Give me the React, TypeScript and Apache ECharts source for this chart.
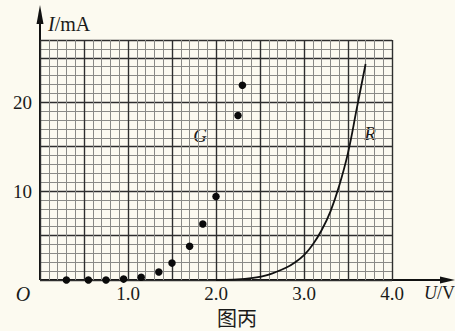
import React, { useEffect, useRef } from "react";
import * as echarts from "echarts";

const gPoints: [number, number][] = [
  [0.3, 0], [0.55, 0], [0.75, 0], [0.95, 0.1], [1.15, 0.3], [1.35, 0.9],
  [1.5, 1.9], [1.7, 3.8], [1.85, 6.3], [2.0, 9.4], [2.25, 18.5], [2.3, 21.9],
];
const rVoltage = [2.0, 2.2, 2.4, 2.6, 2.8, 2.9, 3.0, 3.1, 3.2, 3.3, 3.4, 3.5, 3.6, 3.7];
const rCurrent = [0, 0.05, 0.2, 0.6, 1.4, 2.0, 2.8, 4.0, 5.6, 7.7, 10.6, 14.3, 19.3, 24.3];
const xTickLabels = ["1.0", "2.0", "3.0", "4.0"];
const yTickLabels = ["10", "20"];

const FONT = "'Liberation Serif', 'Times New Roman', serif";

export default function App() {
  const ref = useRef<HTMLDivElement>(null);
  useEffect(() => {
    if (!ref.current) return;
    const chart = echarts.init(ref.current, undefined, { renderer: "svg" });
    const gridLeft = 40, gridTop = 40, gridRight = 63, gridBottom = 51;
    chart.setOption({
      animation: false,
      backgroundColor: "#fcfaf0",
      grid: { left: gridLeft, top: gridTop, right: gridRight, bottom: gridBottom },
      xAxis: [
        {
          type: "value", min: 0, max: 4, interval: 0.1, position: "bottom",
          axisLine: { show: false }, axisTick: { show: false }, axisLabel: { show: false },
          splitLine: { show: true, lineStyle: { color: "#8a8a86", width: 1 } },
        },
        {
          type: "value", min: 0, max: 4, interval: 0.5, position: "bottom", offset: 0,
          axisLine: { show: false, onZero: false }, axisTick: { show: false },
          axisLabel: {
            show: true, margin: 4, fontFamily: FONT, fontSize: 19, color: "#1a1a1a",
            formatter: (v: number) => {
              const s = v.toFixed(1);
              return xTickLabels.includes(s) ? s : "";
            },
          },
          splitLine: { show: true, lineStyle: { color: "#2e2e2e", width: 1.4 } },
        },
      ],
      yAxis: [
        {
          type: "value", min: 0, max: 27, interval: 1, position: "left",
          axisLine: { show: false }, axisTick: { show: false }, axisLabel: { show: false },
          splitLine: { show: true, lineStyle: { color: "#8a8a86", width: 1 } },
        },
        {
          type: "value", min: 0, max: 27, interval: 5, position: "left", offset: 0,
          axisLine: { show: false, onZero: false }, axisTick: { show: false },
          axisLabel: {
            show: true, margin: 8, fontFamily: FONT, fontSize: 19, color: "#1a1a1a",
            formatter: (v: number) => (yTickLabels.includes(String(v)) ? String(v) : ""),
          },
          splitLine: { show: true, lineStyle: { color: "#2e2e2e", width: 1.4 } },
        },
      ],
      series: [
        {
          name: "G", type: "scatter", xAxisIndex: 0, yAxisIndex: 0,
          data: gPoints, symbolSize: 7.5, itemStyle: { color: "#0a0a0a", opacity: 1 },
        },
        {
          name: "R", type: "line", xAxisIndex: 0, yAxisIndex: 0,
          data: rVoltage.map((v, i) => [v, rCurrent[i]]), smooth: 0.4,
          showSymbol: false, lineStyle: { color: "#111", width: 1.8 },
        },
      ],
      graphic: [
        { type: "line", shape: { x1: 40, y1: 280, x2: 440, y2: 280 }, style: { stroke: "#111", lineWidth: 2 } },
        { type: "polygon", shape: { points: [[455, 280], [440, 276.5], [440, 283.5]] }, style: { fill: "#111" } },
        { type: "line", shape: { x1: 40, y1: 280, x2: 40, y2: 20 }, style: { stroke: "#111", lineWidth: 2 } },
        { type: "polygon", shape: { points: [[40, 5], [36.5, 24], [43.5, 24]] }, style: { fill: "#111" } },
        {
          type: "text", x: 48, y: 24,
          style: {
            text: "{i|I}/mA", fontFamily: FONT, fontSize: 20, fill: "#1a1a1a", verticalAlign: "middle",
            rich: { i: { fontStyle: "italic", fontFamily: FONT, fontSize: 20, fill: "#1a1a1a" } },
          },
        },
        {
          type: "text", x: 424, y: 293,
          style: {
            text: "{i|U}/V", fontFamily: FONT, fontSize: 18, fill: "#1a1a1a", verticalAlign: "middle",
            rich: { i: { fontStyle: "italic", fontFamily: FONT, fontSize: 18, fill: "#1a1a1a" } },
          },
        },
        {
          type: "text", x: 23, y: 294,
          style: { text: "O", fontFamily: FONT, fontStyle: "italic", fontSize: 20, fill: "#1a1a1a", align: "center", verticalAlign: "middle" },
        },
        {
          type: "text", x: 200, y: 135,
          style: { text: "G", fontFamily: FONT, fontStyle: "italic", fontSize: 19, fill: "#1a1a1a", align: "center", verticalAlign: "middle" },
        },
        {
          type: "text", x: 370, y: 133,
          style: { text: "R", fontFamily: FONT, fontStyle: "italic", fontSize: 19, fill: "#1a1a1a", align: "center", verticalAlign: "middle" },
        },
        {
          type: "text", x: 237, y: 317,
          style: { text: "图丙", fontFamily: "'Noto Sans CJK SC', sans-serif", fontSize: 20, fill: "#1a1a1a", align: "center", verticalAlign: "middle" },
        },
      ],
    });
    return () => chart.dispose();
  }, []);
  return (
    <div
      ref={ref}
      style={{ position: "absolute", left: 0, top: 0, width: 455, height: 331 }}
    />
  );
}
